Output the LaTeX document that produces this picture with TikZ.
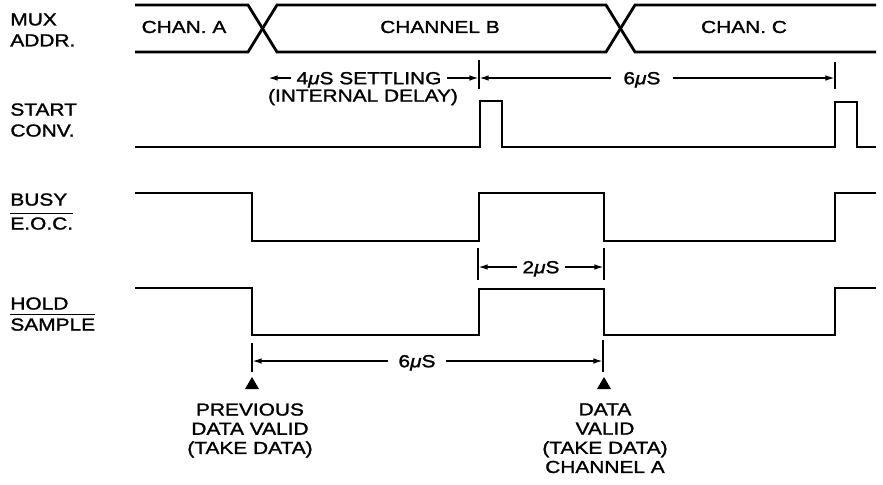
\documentclass[tikz,border=0pt]{standalone}
\usepackage{fontspec}
\setmainfont{Liberation Sans}[FakeStretch=1.2, FakeBold=1.4]
\usetikzlibrary{arrows.meta, positioning}
\newcommand{\us}{{\itshape μ}S}
\newcommand{\overbar}[1]{\vbox{\hrule height 0.9pt\kern 1.5pt\hbox{#1}}}

\begin{document}
\begin{tikzpicture}[
		x=0.5pt, y=-0.5pt,
		>={Latex[length=4.8pt, width=2.8pt]},
		font=\fontsize{8.7}{9.6}\selectfont,
		signal/.style={line width=1.4pt},
		dimline/.style={line width=0.85pt},
		tick/.style={line width=0.85pt},
		dimlabel/.style={inner xsep=2.5pt, inner ysep=0pt, text height=6.2pt, text depth=0pt},
		siglabel/.style={anchor=north west, align=left, inner sep=0pt, font=\fontsize{8.7}{10.5}\selectfont},
		note/.style={anchor=north, align=center, inner sep=0pt}
		]
		\useasboundingbox (0,0) rectangle (883,484);
		
		% ==========================================
		% Signal names
		% ==========================================
		\node[siglabel] (mux) at (10,13) {MUX\\ADDR.};
		\node[siglabel] (start) at (10,103) {START\\CONV.};
		\node[siglabel] (busy) at (10,193) {BUSY\\[1.5pt]\overbar{E.O.C.}};
		\node[siglabel] (hold) at (10,297) {HOLD\\\overbar{SAMPLE}};
		
		% ==========================================
		% MUX address bus
		% ==========================================
		\draw[signal] (135,5) -- (248,5) -- (277,52) -- (606,52) -- (635,5) -- (876,5);
		\draw[signal] (135,52) -- (248,52) -- (277,5) -- (606,5) -- (635,52) -- (876,52);
		\node (chana) at (184,27) {CHAN. A};
		\node (chanb) at (440,27) {CHANNEL B};
		\node (chanc) at (744,27) {CHAN. C};
		
		% ==========================================
		% Waveforms
		% ==========================================
		\draw[signal] (135,147) -- (480,147) -- (480,101) -- (502,101) -- (502,147)
		-- (835,147) -- (835,102) -- (857,102) -- (857,147) -- (876,147);
		\draw[signal] (135,193) -- (252,193) -- (252,241) -- (479,241) -- (479,193)
		-- (604,193) -- (604,241) -- (835,241) -- (835,193) -- (876,193);
		\draw[signal] (135,288) -- (252,288) -- (252,335) -- (479,335) -- (479,289)
		-- (604,289) -- (604,335) -- (835,335) -- (835,288) -- (876,288);
		
		% ==========================================
		% Timing marks
		% ==========================================
		\coordinate (set0) at (268,78);
		\coordinate (t1) at (479,78);
		\coordinate (t2) at (835,78);
		\draw[tick] (479,60) -- (479,89);
		\draw[tick] (835,62) -- (835,89);
		
		\node[dimlabel] (settle) at (369,78) {4\us{} SETTLING};
		\node[inner sep=0pt, below=2pt of settle, xshift=-3pt] (delay) {(INTERNAL DELAY)};
		\draw[dimline, ->] (settle.west) -- (set0);
		\draw[dimline, ->] (settle.east) -- (t1);
		
		\node[dimlabel, inner xsep=6pt] (sixa) at (642,78) {6\us};
		\draw[dimline, ->] (sixa.west) -- (t1);
		\draw[dimline, ->] (sixa.east) -- (t2);
		
		% conversion time
		\coordinate (c0) at (478,267);
		\coordinate (c1) at (604,267);
		\draw[tick] (478,248) -- (478,280);
		\draw[tick] (604,248) -- (604,280);
		\node[dimlabel] (two) at (541,267) {2\us};
		\draw[dimline, ->] (two.west) -- (c0);
		\draw[dimline, ->] (two.east) -- (c1);
		
		% sample to data valid
		\coordinate (h0) at (252,361);
		\coordinate (h1) at (603,361);
		\draw[tick] (252,343) -- (252,372);
		\draw[tick] (603,340) -- (603,372);
		\node[dimlabel, inner xsep=5pt] (sixb) at (417,361) {6\us};
		\draw[dimline, ->] (sixb.west) -- (h0);
		\draw[dimline, ->] (sixb.east) -- (h1);
		
		% ==========================================
		% Data valid markers
		% ==========================================
		\coordinate (prevmark) at (252,377);
		\coordinate (validmark) at (604,377);
		\fill (prevmark) -- ++(7,12) -- ++(-14,0) -- cycle;
		\fill (validmark) -- ++(7,12) -- ++(-14,0) -- cycle;
		
		\node[note] (prevnote) at (250,403) {PREVIOUS\\DATA VALID\\(TAKE DATA)};
		\node[note] (validnote) at (605,403) {DATA\\VALID\\(TAKE DATA)\\CHANNEL A};
		
	\end{tikzpicture}
\end{document}
